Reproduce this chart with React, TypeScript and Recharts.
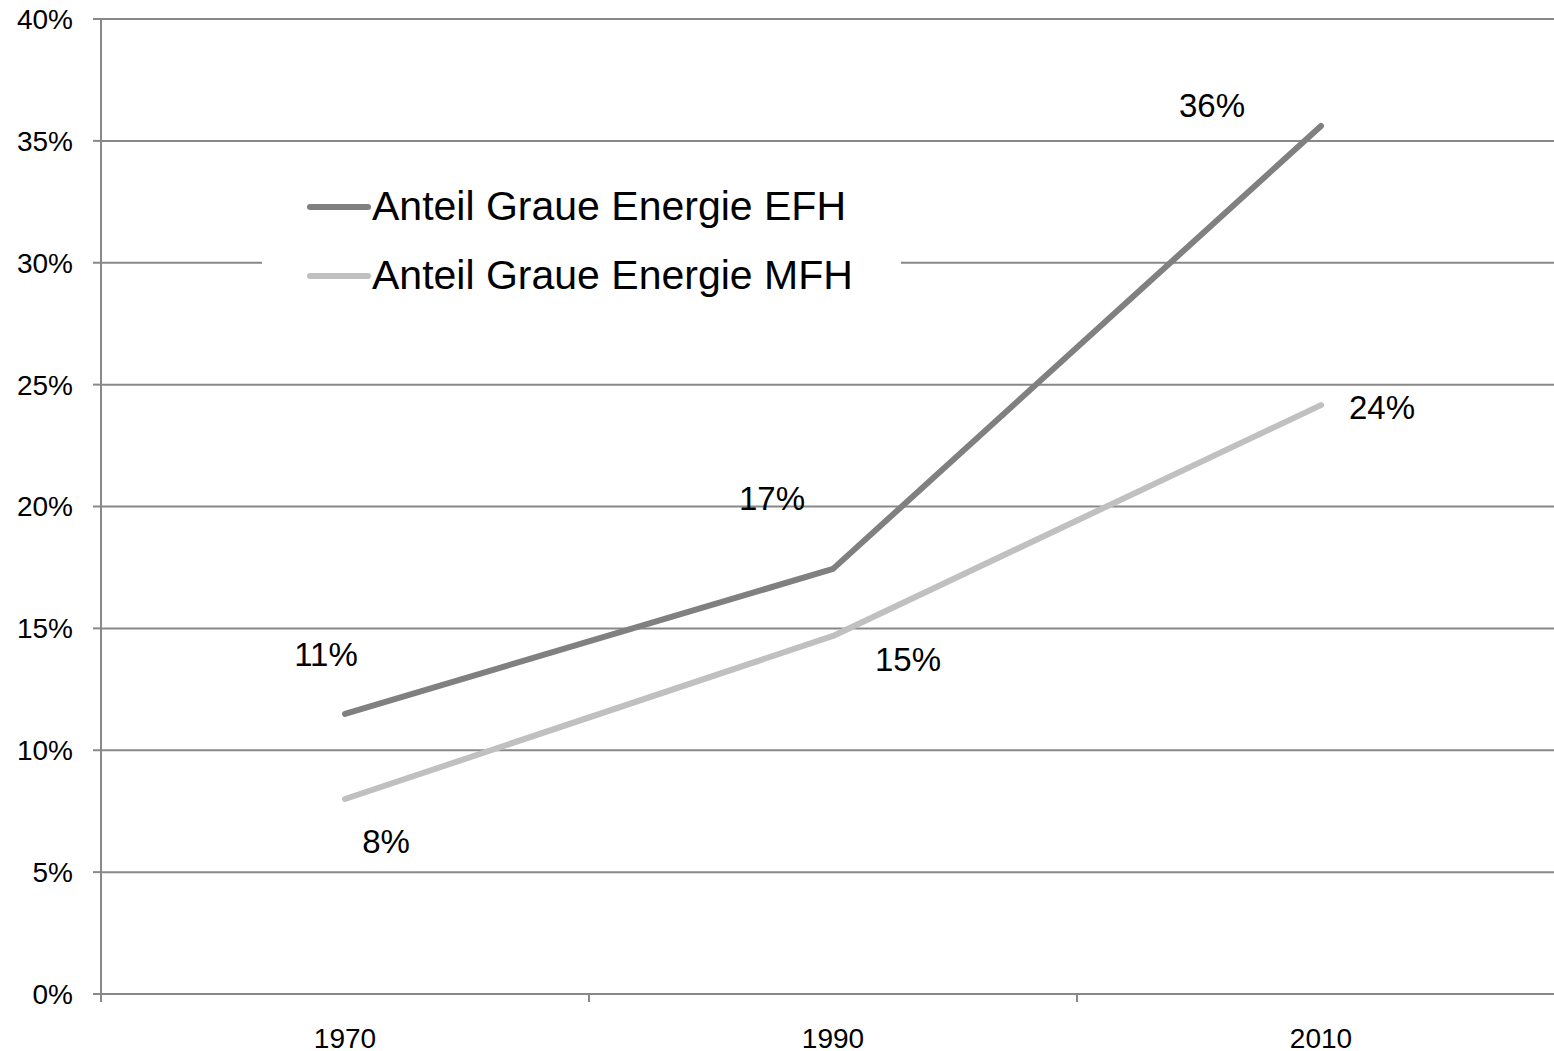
import { CartesianGrid, LabelList, Legend, Line, LineChart, XAxis, YAxis } from "recharts";

const YEARS = ["1970", "1990", "2010"];
const EFH_SHARE = [0.1149, 0.1744, 0.3561];
const MFH_SHARE = [0.08, 0.1469, 0.2416];
const Y_TICKS = [0, 0.05, 0.1, 0.15, 0.2, 0.25, 0.3, 0.35, 0.4];

const EFH_NAME = "Anteil Graue Energie EFH";
const MFH_NAME = "Anteil Graue Energie MFH";

// labels were placed by hand in the original slide: offset from each point
const EFH_LABEL_OFFSET = [[-19, -59], [-61, -70], [-109, -21]];
const MFH_LABEL_OFFSET = [[41, 42], [75, 24], [61, 2]];

const FONT = '"Liberation Sans", Arial, Helvetica, sans-serif';
const AXIS_GRAY = "#888888";

const CHART_W = 1570;
const CHART_H = 1051;
const Y_AXIS_W = 101;
const MARGIN = { top: 19, right: 5, bottom: 0, left: 0 };
const X_AXIS_H = 57;
// category band (Excel style: points sit in the middle of each band)
const HALF_BAND = (CHART_W - Y_AXIS_W - MARGIN.right) / YEARS.length / 2;

const SERIES = [
  { key: "efh", name: EFH_NAME, color: "#808080", offsets: EFH_LABEL_OFFSET },
  { key: "mfh", name: MFH_NAME, color: "#c0c0c0", offsets: MFH_LABEL_OFFSET },
];

const data = YEARS.map((year, i) => ({ year, efh: EFH_SHARE[i], mfh: MFH_SHARE[i] }));

const pct = (v: number) => `${Math.round(v * 100)}%`;

function YearTick({ x, y, payload }: { x?: number; y?: number; payload?: { value: string } }) {
  if (x === undefined || y === undefined || !payload) return null;
  const axisY = y - 34;
  return (
    <g>
      <line x1={x - HALF_BAND} x2={x - HALF_BAND} y1={axisY} y2={axisY + 8} stroke={AXIS_GRAY} strokeWidth={2} />
      <text x={x} y={y} dy="0.71em" textAnchor="middle" fill="#000" fontSize={28} fontFamily={FONT}>
        {payload.value}
      </text>
    </g>
  );
}

function makeLabel(offsets: number[][]) {
  return function PointLabel(props: { x?: number | string; y?: number | string; value?: number | string; index?: number }) {
    const { x, y, value, index } = props;
    if (x === undefined || y === undefined || value === undefined || index === undefined) return null;
    const [dx, dy] = offsets[index];
    return (
      <text
        x={Number(x) + dx}
        y={Number(y) + dy}
        textAnchor="middle"
        dominantBaseline="central"
        fill="#000"
        fontSize={33}
        fontFamily={FONT}
      >
        {pct(Number(value))}
      </text>
    );
  };
}

function SeriesLegend() {
  return (
    <div style={{ background: "#fff", width: 639, height: 140, boxSizing: "border-box", paddingLeft: 45 }}>
      {SERIES.map((s) => (
        <div key={s.key} style={{ display: "flex", alignItems: "center", height: 69 }}>
          <svg width={65} height={12} style={{ display: "block" }}>
            <line x1={3} x2={61} y1={6} y2={6} stroke={s.color} strokeWidth={6} strokeLinecap="round" />
          </svg>
          <span style={{ fontSize: 41, lineHeight: 1, color: "#000", fontFamily: FONT, whiteSpace: "nowrap" }}>
            {s.name}
          </span>
        </div>
      ))}
    </div>
  );
}

export default function App() {
  return (
    <div style={{ position: "absolute", left: 0, top: 0, width: 1554, height: 1051, overflow: "hidden", background: "#fff" }}>
      <LineChart width={CHART_W} height={CHART_H} data={data} margin={MARGIN}>
        <CartesianGrid vertical={false} stroke={AXIS_GRAY} strokeWidth={2} />
        <XAxis
          dataKey="year"
          height={X_AXIS_H}
          padding={{ left: HALF_BAND, right: HALF_BAND }}
          axisLine={{ stroke: AXIS_GRAY, strokeWidth: 2 }}
          tickLine={false}
          tickSize={0}
          tickMargin={34}
          tick={<YearTick />}
          interval={0}
        />
        <YAxis
          width={Y_AXIS_W}
          domain={[0, 0.4]}
          ticks={Y_TICKS}
          tickFormatter={pct}
          axisLine={{ stroke: AXIS_GRAY, strokeWidth: 2 }}
          tickLine={{ stroke: AXIS_GRAY, strokeWidth: 2 }}
          tickSize={8}
          tickMargin={20}
          tick={{ fill: "#000", fontSize: 28, fontFamily: FONT }}
        />
        <Legend
          layout="vertical"
          align="center"
          verticalAlign="middle"
          content={<SeriesLegend />}
          wrapperStyle={{ left: 262, top: 172, width: 639, height: 140 }}
        />
        {SERIES.map((s) => (
          <Line
            key={s.key}
            type="linear"
            dataKey={s.key}
            name={s.name}
            stroke={s.color}
            strokeWidth={6}
            strokeLinecap="round"
            strokeLinejoin="round"
            dot={false}
            activeDot={false}
            isAnimationActive={false}
          >
            <LabelList dataKey={s.key} content={makeLabel(s.offsets)} />
          </Line>
        ))}
      </LineChart>
    </div>
  );
}
